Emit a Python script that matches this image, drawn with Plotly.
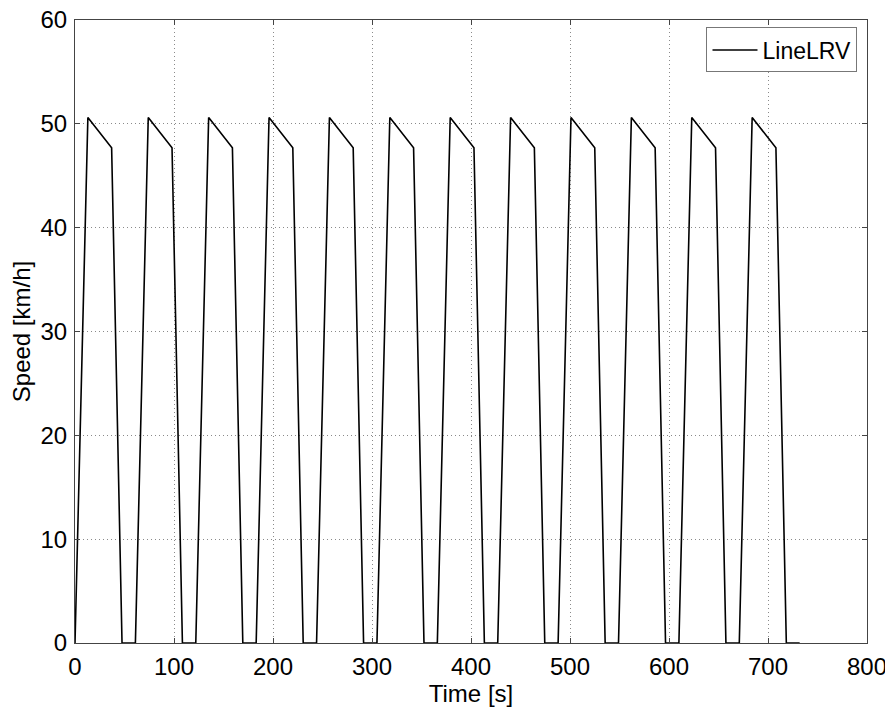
import plotly.graph_objects as go

time_s = [
    0, 13, 37, 47.5,
    61, 74, 98, 108.5,
    122, 135, 159, 169.5,
    183, 196, 220, 230.5,
    244, 257, 281, 291.5,
    305, 318, 342, 352.5,
    366, 379, 403, 413.5,
    427, 440, 464, 474.5,
    488, 501, 525, 535.5,
    549, 562, 586, 596.5,
    610, 623, 647, 657.5,
    671, 684, 708, 718.5,
    732,
]
speed_kmh = [
    0, 50.6, 47.7, 0,
    0, 50.6, 47.7, 0,
    0, 50.6, 47.7, 0,
    0, 50.6, 47.7, 0,
    0, 50.6, 47.7, 0,
    0, 50.6, 47.7, 0,
    0, 50.6, 47.7, 0,
    0, 50.6, 47.7, 0,
    0, 50.6, 47.7, 0,
    0, 50.6, 47.7, 0,
    0, 50.6, 47.7, 0,
    0, 50.6, 47.7, 0,
    0,
]
x_ticks = [0, 100, 200, 300, 400, 500, 600, 700, 800]
y_ticks = [0, 10, 20, 30, 40, 50, 60]

fig = go.Figure()
fig.add_trace(go.Scatter(
    x=time_s, y=speed_kmh, mode="lines", name="LineLRV",
    line=dict(color="black", width=1.6),
))

font_family = "Liberation Sans, Arial, sans-serif"
axis_common = dict(
    showline=True, linecolor="#444444", linewidth=1, mirror="ticks",
    ticks="inside", ticklen=5, tickcolor="#444444",
    showgrid=True, gridcolor="#8a8a8a", griddash="1px,3px", gridwidth=1,
    zeroline=False, ticklabeloverflow="allow", automargin=False,
    tickfont=dict(family=font_family, size=24, color="black"),
)
fig.update_xaxes(
    range=[0, 800], tickvals=x_ticks, ticktext=[str(v) for v in x_ticks],
    ticklabelstandoff=2,
    title=dict(text="Time [s]", font=dict(family=font_family, size=24, color="black"), standoff=0),
    **axis_common,
)
fig.update_yaxes(
    range=[0, 60], tickvals=y_ticks, ticktext=[str(v) for v in y_ticks],
    ticklabelstandoff=2,
    title=dict(text="Speed [km/h]", font=dict(family=font_family, size=24, color="black"), standoff=4),
    **axis_common,
)
fig.update_layout(
    width=885, height=707,
    margin=dict(l=67, r=26, t=12, b=72),
    paper_bgcolor="white", plot_bgcolor="white",
    showlegend=True,
    legend=dict(
        x=0.988, y=0.988, xanchor="right", yanchor="top",
        bordercolor="#777777", borderwidth=1, bgcolor="white",
        font=dict(family=font_family, size=23, color="black"),
        tracegroupgap=0, itemwidth=45,
    ),
)
fig.write_html("out.html")
